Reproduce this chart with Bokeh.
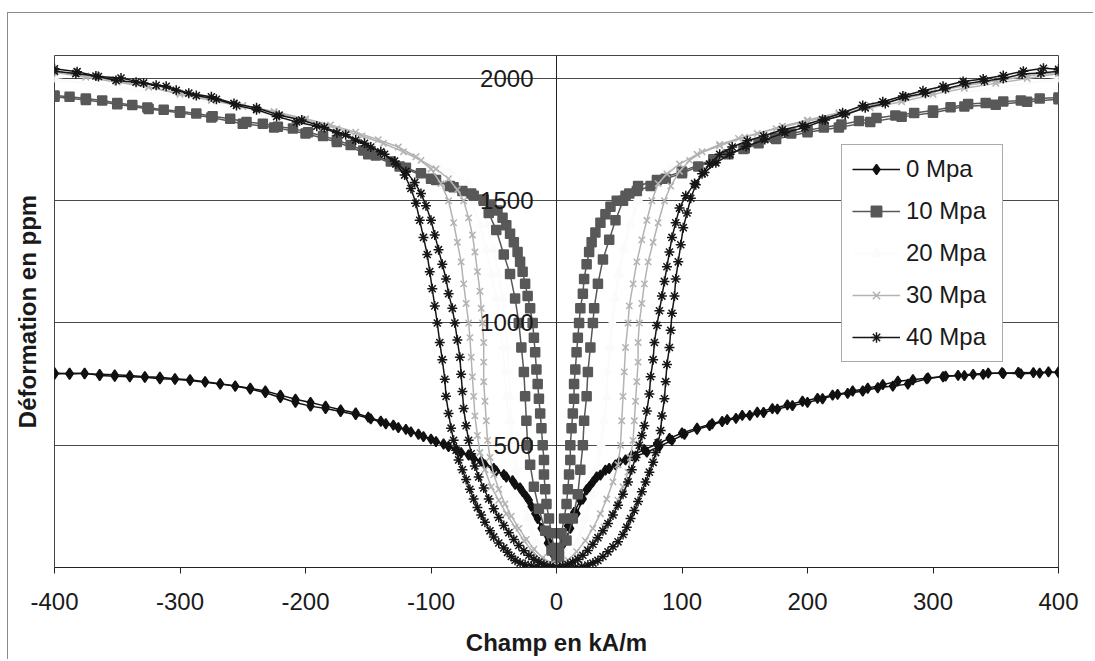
from bokeh.plotting import figure
from bokeh.layouts import column
from bokeh.models import Range1d, LinearAxis, FixedTicker, Legend, LegendItem, ColumnDataSource
from bokeh.embed import file_html
from bokeh.resources import INLINE

# ---------------- data ----------------
X_TICKS = [-400, -300, -200, -100, 0, 100, 200, 300, 400]
Y_TICKS = [500, 1000, 1500, 2000]
LABELS = ["0 Mpa", "10 Mpa", "20 Mpa", "30 Mpa", "40 Mpa"]

# 0 MPa  (field increasing / decreasing)
S0_UP = [(-400, 797), (-388, 790), (-376, 795), (-364, 785), (-352, 782), (-340, 780), (-328, 778), (-316, 772),
         (-304, 770), (-292, 765), (-280, 758), (-268, 750), (-256, 742), (-244, 733), (-232, 722), (-220, 705),
         (-208, 688), (-196, 675), (-184, 660), (-172, 645), (-160, 632), (-150, 615), (-140, 598), (-130, 582),
         (-120, 565), (-110, 545), (-100, 525), (-90, 505), (-80, 483), (-70, 460), (-60, 435), (-50, 405),
         (-42, 380), (-35, 355), (-29, 325), (-24, 290), (-20, 250), (-15, 200), (-10, 150), (-6, 105), (-2, 60),
         (2, 50), (6, 100), (11, 160), (16, 220), (21, 280), (26, 330), (32, 370), (39, 398), (47, 420), (55, 440),
         (63, 455), (72, 472), (82, 495), (92, 520), (102, 545), (112, 565), (122, 580), (132, 597), (143, 610),
         (154, 622), (165, 634), (176, 648), (188, 662), (200, 675), (212, 690), (224, 708), (236, 722), (248, 733),
         (260, 748), (272, 762), (284, 768), (296, 775), (308, 780), (320, 786), (332, 790), (344, 795), (356, 793),
         (368, 798), (380, 797), (392, 800), (400, 797)]
S0_DOWN = [(400, 800), (385, 795), (370, 792), (355, 797), (340, 790), (325, 785), (310, 783), (295, 772), (280, 750),
           (268, 742), (256, 735), (244, 722), (232, 712), (220, 705), (208, 692), (196, 680), (184, 665), (172, 650),
           (160, 635), (148, 622), (136, 605), (124, 588), (112, 570), (100, 550), (90, 528), (80, 505), (70, 482),
           (60, 458), (50, 432), (42, 405), (35, 378), (29, 350), (24, 318), (19, 275), (14, 225), (9, 170), (5, 120),
           (1, 70), (-3, 55), (-7, 100), (-12, 160), (-17, 220), (-22, 275), (-27, 310), (-33, 340), (-40, 370),
           (-48, 395), (-57, 420), (-66, 445), (-76, 470), (-86, 495), (-96, 515), (-106, 535), (-116, 555),
           (-126, 572), (-136, 588), (-148, 608), (-160, 625), (-172, 638), (-184, 650), (-196, 660), (-208, 675),
           (-220, 695), (-232, 715), (-244, 730), (-256, 742), (-268, 752), (-280, 760), (-292, 768), (-304, 772),
           (-316, 778), (-328, 780), (-340, 785), (-352, 788), (-364, 790), (-376, 792), (-388, 795), (-400, 790)]

# 10 MPa
S10_UP = [(-400, 1930), (-388, 1925), (-375, 1918), (-362, 1910), (-350, 1900), (-338, 1892), (-326, 1881),
          (-313, 1872), (-300, 1866), (-287, 1857), (-274, 1846), (-260, 1835), (-247, 1822), (-234, 1815),
          (-222, 1803), (-210, 1795), (-198, 1780), (-186, 1765), (-175, 1748), (-164, 1728), (-154, 1705),
          (-144, 1685), (-132, 1660), (-120, 1635), (-108, 1612), (-96, 1585), (-85, 1560), (-75, 1540),
          (-66, 1520), (-58, 1505), (-52, 1485), (-47, 1460), (-43, 1430), (-40, 1400), (-37, 1365), (-34, 1330),
          (-31, 1290), (-29, 1250), (-27, 1210), (-25, 1160), (-23, 1110), (-21, 1060), (-19, 1000), (-18, 940),
          (-17, 880), (-16, 810), (-15, 750), (-14, 690), (-13, 630), (-12, 570), (-11, 500), (-10, 440),
          (-10, 380), (-9, 320), (-8, 260), (-6, 200), (-4, 140), (-2, 80), (0, 40), (2, 80), (4, 140), (6, 200),
          (8, 260), (9, 320), (10, 380), (11, 440), (11, 500), (12, 570), (13, 630), (14, 690), (14, 750),
          (15, 810), (16, 880), (17, 940), (18, 1000), (19, 1060), (21, 1120), (22, 1180), (24, 1240), (26, 1290),
          (28, 1330), (31, 1370), (35, 1410), (39, 1445), (43, 1475), (48, 1500), (55, 1520), (64, 1540),
          (75, 1560), (87, 1590), (100, 1612), (113, 1640), (125, 1665), (137, 1690), (149, 1712), (161, 1735),
          (174, 1758), (187, 1775), (200, 1788), (213, 1800), (227, 1812), (241, 1826), (255, 1838), (270, 1849),
          (285, 1859), (300, 1869), (314, 1882), (328, 1896), (342, 1900), (356, 1906), (370, 1910), (385, 1918),
          (400, 1922)]
S10_DOWN = [(400, 1915), (375, 1905), (350, 1893), (325, 1885), (300, 1860), (275, 1843), (250, 1822), (225, 1800),
            (200, 1780), (175, 1752), (150, 1715), (125, 1670), (100, 1620), (80, 1585), (65, 1560), (58, 1530),
            (53, 1500), (47, 1420), (42, 1340), (37, 1260), (33, 1160), (30, 1060), (29, 1000), (27, 900),
            (25, 800), (24, 700), (22, 600), (21, 500), (19, 400), (17, 300), (13, 200), (8, 110), (2, 45),
            (-4, 70), (-9, 150), (-14, 240), (-18, 330), (-21, 420), (-23, 500), (-24, 600), (-25, 700), (-26, 800),
            (-28, 900), (-30, 1000), (-33, 1100), (-37, 1200), (-42, 1280), (-48, 1380), (-54, 1450), (-58, 1500),
            (-68, 1530), (-82, 1555), (-100, 1590), (-125, 1640), (-150, 1690), (-175, 1740), (-200, 1775),
            (-225, 1800), (-250, 1815), (-275, 1840), (-300, 1860), (-325, 1875), (-350, 1895), (-375, 1912),
            (-400, 1925)]

# 20 MPa (very pale in the scan)
S20_UP = [(-400, 2000), (-300, 1930), (-200, 1820), (-150, 1750), (-110, 1680), (-85, 1620), (-70, 1570),
          (-62, 1500), (-55, 1400), (-50, 1300), (-46, 1200), (-43, 1100), (-41, 1000), (-39, 900), (-38, 800),
          (-37, 700), (-36, 600), (-34, 500), (-31, 400), (-27, 300), (-22, 200), (-15, 100), (-7, 40), (0, 15),
          (8, 40), (16, 100), (22, 200), (27, 300), (31, 400), (35, 500), (38, 600), (40, 700), (41, 800),
          (43, 900), (45, 1000), (47, 1100), (50, 1200), (54, 1300), (59, 1400), (66, 1500), (75, 1570),
          (90, 1630), (110, 1680), (150, 1750), (200, 1820), (300, 1930), (400, 2000)]
S20_DOWN = [(400, 1995), (300, 1925), (200, 1815), (150, 1745), (110, 1675), (85, 1615), (72, 1565), (64, 1500),
            (58, 1400), (53, 1300), (49, 1200), (46, 1100), (44, 1000), (42, 900), (41, 800), (40, 700), (38, 600),
            (36, 500), (33, 400), (29, 300), (24, 200), (17, 100), (9, 40), (0, 15), (-8, 40), (-17, 100),
            (-24, 200), (-29, 300), (-33, 400), (-36, 500), (-38, 600), (-40, 700), (-41, 800), (-43, 900),
            (-45, 1000), (-48, 1100), (-52, 1200), (-56, 1300), (-61, 1400), (-68, 1500), (-78, 1570), (-92, 1630),
            (-112, 1680), (-150, 1750), (-200, 1815), (-300, 1925), (-400, 1995)]

# 30 MPa
S30_UP = [(-400, 2025), (-375, 2005), (-350, 1985), (-325, 1965), (-300, 1935), (-275, 1910), (-250, 1885),
          (-225, 1860), (-200, 1830), (-175, 1795), (-155, 1765), (-138, 1735), (-122, 1700), (-108, 1665),
          (-96, 1630), (-86, 1590), (-79, 1545), (-74, 1500), (-70, 1430), (-67, 1360), (-65, 1290), (-63, 1210),
          (-61, 1130), (-60, 1060), (-59, 1000), (-58, 920), (-58, 840), (-58, 760), (-57, 680), (-56, 600),
          (-55, 520), (-53, 450), (-50, 380), (-46, 320), (-41, 260), (-36, 210), (-30, 160), (-24, 115),
          (-18, 75), (-11, 40), (-4, 15), (3, 5), (10, 15), (17, 40), (24, 75), (31, 115), (38, 165), (44, 220),
          (49, 275), (53, 330), (57, 390), (59, 450), (61, 520), (62, 600), (63, 680), (64, 760), (65, 840),
          (65, 920), (66, 1000), (68, 1080), (70, 1160), (73, 1250), (77, 1330), (81, 1410), (86, 1500),
          (91, 1560), (98, 1620), (106, 1665), (116, 1700), (130, 1730), (145, 1755), (160, 1775), (180, 1805),
          (200, 1830), (225, 1860), (250, 1890), (275, 1915), (300, 1945), (325, 1970), (350, 1990), (375, 2010),
          (400, 2025)]
S30_DOWN = [(400, 2020), (375, 2000), (350, 1980), (325, 1960), (300, 1935), (275, 1905), (250, 1880), (225, 1855),
            (200, 1825), (175, 1795), (150, 1760), (130, 1725), (112, 1690), (98, 1650), (88, 1610), (81, 1570),
            (76, 1500), (72, 1420), (68, 1340), (64, 1250), (61, 1160), (58, 1070), (57, 1000), (55, 900),
            (54, 800), (53, 700), (52, 600), (51, 500), (49, 420), (45, 350), (40, 280), (35, 220), (29, 160),
            (23, 110), (16, 65), (9, 30), (2, 10), (-5, 10), (-12, 30), (-19, 65), (-26, 110), (-33, 165),
            (-40, 220), (-46, 275), (-52, 330), (-57, 400), (-61, 470), (-63, 540), (-65, 620), (-66, 700),
            (-67, 780), (-68, 860), (-69, 940), (-70, 1000), (-72, 1080), (-74, 1160), (-76, 1250), (-79, 1330),
            (-82, 1410), (-86, 1500), (-92, 1570), (-100, 1630), (-112, 1680), (-126, 1720), (-142, 1750),
            (-160, 1780), (-180, 1810), (-200, 1835), (-225, 1865), (-250, 1890), (-275, 1915), (-300, 1940),
            (-325, 1965), (-350, 1990), (-375, 2010), (-400, 2030)]

# 40 MPa
S40_UP = [(-400, 2040), (-382, 2028), (-365, 2008), (-347, 2002), (-329, 1982), (-311, 1968), (-293, 1940),
          (-275, 1925), (-257, 1898), (-239, 1880), (-221, 1850), (-203, 1830), (-185, 1800), (-168, 1770),
          (-153, 1735), (-140, 1700), (-129, 1662), (-120, 1620), (-113, 1575), (-108, 1530), (-104, 1480),
          (-100, 1420), (-97, 1360), (-94, 1300), (-91, 1240), (-88, 1180), (-86, 1120), (-83, 1060), (-81, 1000),
          (-79, 930), (-77, 860), (-76, 790), (-75, 720), (-74, 650), (-72, 580), (-70, 520), (-68, 465),
          (-65, 415), (-62, 370), (-58, 325), (-54, 280), (-50, 240), (-46, 205), (-42, 172), (-38, 142),
          (-34, 115), (-30, 90), (-26, 68), (-22, 50), (-18, 34), (-14, 22), (-10, 12), (-5, 5), (0, 0), (5, -3),
          (10, -3), (15, 0), (20, 4), (25, 10), (29, 18), (33, 29), (37, 45), (41, 64), (45, 85), (49, 105),
          (53, 135), (56, 165), (59, 200), (62, 233), (65, 270), (68, 310), (71, 350), (74, 390), (77, 430),
          (79, 470), (81, 510), (83, 560), (84, 620), (86, 690), (87, 760), (88, 830), (90, 900), (91, 970),
          (92, 1040), (94, 1110), (95, 1180), (97, 1250), (99, 1320), (101, 1390), (104, 1450), (107, 1510),
          (111, 1565), (116, 1610), (122, 1650), (130, 1690), (140, 1720), (152, 1745), (165, 1765), (180, 1790),
          (196, 1808), (212, 1832), (228, 1860), (244, 1890), (260, 1905), (276, 1928), (292, 1950), (308, 1968),
          (324, 1988), (340, 1998), (356, 2012), (372, 2030), (388, 2042), (400, 2038)]
S40_DOWN = [(400, 2030), (386, 2022), (371, 2018), (356, 2000), (341, 1990), (326, 1978), (310, 1958), (294, 1940),
            (278, 1925), (262, 1898), (246, 1880), (230, 1852), (214, 1830), (198, 1800), (182, 1778), (166, 1750),
            (151, 1722), (138, 1690), (127, 1655), (118, 1615), (110, 1570), (103, 1520), (98, 1470), (95, 1410),
            (92, 1350), (90, 1290), (88, 1230), (86, 1170), (84, 1110), (82, 1050), (80, 990), (78, 920),
            (77, 850), (75, 780), (74, 710), (72, 640), (70, 580), (68, 540), (66, 500), (63, 450), (60, 400),
            (57, 350), (53, 300), (49, 255), (45, 215), (41, 180), (37, 150), (33, 122), (29, 95), (25, 70),
            (21, 50), (17, 34), (13, 22), (9, 12), (5, 6), (0, 2), (-5, -1), (-10, 0), (-15, 3), (-20, 7),
            (-25, 12), (-29, 18), (-33, 30), (-36, 45), (-39, 62), (-42, 80), (-46, 100), (-50, 125), (-53, 150),
            (-57, 185), (-60, 215), (-63, 245), (-66, 280), (-69, 320), (-72, 360), (-75, 400), (-78, 440),
            (-80, 480), (-82, 520), (-84, 570), (-86, 630), (-88, 700), (-89, 770), (-91, 850), (-93, 920),
            (-95, 1000), (-97, 1070), (-99, 1140), (-101, 1210), (-103, 1280), (-106, 1350), (-109, 1420),
            (-112, 1490), (-116, 1550), (-121, 1605), (-128, 1650), (-137, 1690), (-148, 1720), (-160, 1748),
            (-175, 1778), (-191, 1805), (-207, 1822), (-223, 1845), (-239, 1872), (-255, 1890), (-271, 1915),
            (-287, 1930), (-303, 1952), (-319, 1972), (-335, 1985), (-351, 1992), (-367, 2010), (-383, 2020),
            (-400, 2030)]

# ---------------- figure ----------------
FONT = "Liberation Sans"
W, H = 1085, 646
p = figure(width=W, height=H, x_range=Range1d(-400, 400), y_range=Range1d(0, 2094),
           output_backend="svg", toolbar_location=None,
           min_border_left=46, min_border_right=35, min_border_top=42, min_border_bottom=92)
p.background_fill_color = "white"
p.border_fill_color = "white"
p.outline_line_color = "#444444"
p.outline_line_width = 1

# x axis
xa = p.xaxis[0]
xa.ticker = FixedTicker(ticks=X_TICKS)
xa.major_label_overrides = {t: str(t) for t in X_TICKS}
xa.major_tick_out = 6
xa.major_tick_in = 0
xa.minor_tick_out = 0
xa.minor_tick_in = 0
xa.axis_line_color = "#222222"
xa.major_tick_line_color = "#222222"
xa.major_label_text_font = FONT
xa.major_label_text_font_size = "24px"
xa.major_label_text_color = "#1a1a1a"
xa.major_label_standoff = 19
xa.axis_label = "Champ en kA/m"
xa.axis_label_text_font = FONT
xa.axis_label_text_font_size = "24px"
xa.axis_label_text_font_style = "bold"
xa.axis_label_text_color = "#1a1a1a"
xa.axis_label_standoff = 16

# left axis: title only
ya = p.yaxis[0]
ya.ticker = FixedTicker(ticks=[])
ya.axis_line_color = None
ya.major_tick_out = 0
ya.major_tick_in = 0
ya.minor_tick_out = 0
ya.minor_tick_in = 0
ya.major_label_standoff = 0
ya.axis_label = "Déformation en ppm"
ya.axis_label_text_font = FONT
ya.axis_label_text_font_size = "24px"
ya.axis_label_text_font_style = "bold"
ya.axis_label_text_color = "#1a1a1a"
ya.axis_label_standoff = 14

# central vertical axis at x = 0
yc = LinearAxis(fixed_location=0, ticker=FixedTicker(ticks=Y_TICKS),
                major_tick_out=0, major_tick_in=0, minor_tick_out=0, minor_tick_in=0,
                axis_line_color="#222222", major_label_standoff=23,
                major_label_text_font=FONT, major_label_text_font_size="24px",
                major_label_text_color="#1a1a1a")
p.add_layout(yc, "left")

p.xgrid.visible = False
p.ygrid.ticker = FixedTicker(ticks=Y_TICKS)
p.ygrid.grid_line_color = "#4a4a4a"
p.ygrid.grid_line_width = 1

STYLE = {
    "0 Mpa": dict(color="#111111", marker="diamond", size=10),
    "10 Mpa": dict(color="#585858", marker="square", size=9),
    "20 Mpa": dict(color="#fbfbfb", marker="triangle", size=8),
    "30 Mpa": dict(color="#b3b3b3", marker="x", size=9),
    "40 Mpa": dict(color="#161616", marker="asterisk", size=10),
}
DATA = {
    "0 Mpa": (S0_UP, S0_DOWN),
    "10 Mpa": (S10_UP, S10_DOWN),
    "20 Mpa": (S20_UP, S20_DOWN),
    "30 Mpa": (S30_UP, S30_DOWN),
    "40 Mpa": (S40_UP, S40_DOWN),
}

legend_renderers = {}
for name in ["20 Mpa", "0 Mpa", "10 Mpa", "30 Mpa", "40 Mpa"]:
    st = STYLE[name]
    for i, branch in enumerate(DATA[name]):
        src = ColumnDataSource(dict(x=[pt[0] for pt in branch], y=[pt[1] for pt in branch]))
        lr = p.line("x", "y", source=src, line_color=st["color"], line_width=1.5)
        sr = p.scatter("x", "y", source=src, marker=st["marker"], size=st["size"],
                       line_color=st["color"], fill_color=st["color"], line_width=1.5)
        if i == 0:
            legend_renderers[name] = [lr, sr]

items = [LegendItem(label=n, renderers=legend_renderers[n]) for n in LABELS]
legend = Legend(items=items, location=(787, 205), orientation="vertical",
                label_text_font=FONT, label_text_font_size="24px", label_text_color="#1a1a1a",
                glyph_width=48, glyph_height=26, label_height=26, label_width=86, label_standoff=6,
                spacing=14, padding=10, margin=0,
                border_line_color="#555555", border_line_width=1,
                background_fill_color="white", background_fill_alpha=1.0)
p.add_layout(legend)

# outer chart-area frame: only its top and left edges fall inside the picture
page = column(p, margin=(12, 0, 0, 7),
              styles={"border-top": "1px solid #8a8a8a", "border-left": "1px solid #8a8a8a"})

open("out.html", "w").write(file_html(page, INLINE))
